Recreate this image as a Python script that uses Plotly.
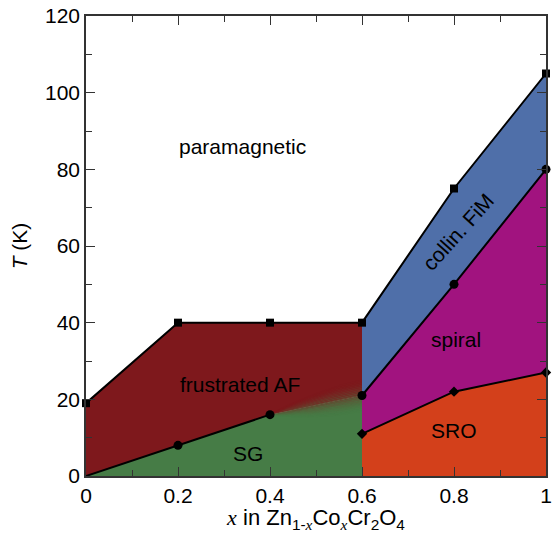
import numpy as np
import plotly.graph_objects as go

# ---- data ----
x_upper = [0.0, 0.2, 0.4, 0.6, 0.8, 1.0]
T_upper = [19, 40, 40, 40, 75, 105]          # squares: paramagnetic boundary

x_sg = [0.0, 0.2, 0.4]
T_sg = [0, 8, 16]                             # circles: SG / frustrated AF
x_sg_end = 0.6
T_sg_end = 21

x_fim = [0.6, 0.8, 1.0]
T_fim = [21, 50, 80]                          # circles: collin. FiM / spiral

x_sro = [0.6, 0.8, 1.0]
T_sro = [11, 22, 27]                          # diamonds: spiral / SRO

x_ticks = [0, 0.2, 0.4, 0.6, 0.8, 1]
x_ticklabels = ["0", "0.2", "0.4", "0.6", "0.8", "1"]
y_ticks = [0, 20, 40, 60, 80, 100, 120]

C_AF = "#7e181c"
C_SG = "#467c46"
C_FIM = "#4f6fa9"
C_SP = "#a1137f"
C_SRO = "#d3401b"

FONT = "Liberation Sans, Arial, sans-serif"

fig = go.Figure()

def poly(xs, ys, color):
    fig.add_trace(go.Scatter(x=xs, y=ys, fill="toself", fillcolor=color, mode="lines",
                             line=dict(width=0, color=color), hoverinfo="skip", showlegend=False))

sg_x = x_sg + [x_sg_end]
sg_T = T_sg + [T_sg_end]
x_split = x_upper.index(0.6)

# frustrated AF region
poly(x_upper[:x_split + 1] + sg_x[::-1], T_upper[:x_split + 1] + sg_T[::-1], C_AF)
# SG region
poly(sg_x + [x_sg_end, 0.0], sg_T + [0, 0], C_SG)
# collinear FiM region
poly(x_upper[x_split:] + x_fim[::-1], T_upper[x_split:] + T_fim[::-1], C_FIM)
# spiral
poly(x_fim + x_sro[::-1], T_fim + T_sro[::-1], C_SP)
# SRO
poly(x_sro + [1.0, 0.6], T_sro + [0, 0], C_SRO)

# blurred transition between AF and SG (x from 0.4 to 0.6)
def hex2rgb(h):
    h = h.lstrip("#")
    return np.array([int(h[i:i + 2], 16) for i in (0, 2, 4)], dtype=float)

ra, rg = hex2rgb(C_AF), hex2rgb(C_SG)
xs = np.linspace(x_sg[-1], x_sg_end, 21)
base = np.interp(xs, [x_sg[-1], x_sg_end], [T_sg[-1], T_sg_end])
w = 4.2 * np.sin(np.pi * (xs - x_sg[-1]) / (x_sg_end - x_sg[-1]) * 0.5) ** 0.8
nb = 20
ks = np.linspace(-1, 1, nb + 1)
for i in range(nb):
    frac = (i + 0.5) / nb
    frac = 0.5 - 0.5 * np.cos(np.pi * frac)
    c = rg * (1 - frac) + ra * frac
    col = "rgb(%d,%d,%d)" % tuple(c)
    lo = base + w * ks[i]
    hi = base + w * ks[i + 1]
    poly(list(xs) + list(xs[::-1]), list(lo) + list(hi[::-1]), col)

# boundary lines and markers
line = dict(color="black", width=2)
fig.add_trace(go.Scatter(x=x_upper, y=T_upper, mode="lines+markers", line=line,
                         marker=dict(symbol="square", size=8, color="black"),
                         cliponaxis=False, showlegend=False))
fig.add_trace(go.Scatter(x=x_sg, y=T_sg, mode="lines", line=line, showlegend=False))
fig.add_trace(go.Scatter(x=[a for a, b in zip(x_sg, T_sg) if b > 0],
                         y=[b for b in T_sg if b > 0], mode="markers",
                         marker=dict(symbol="circle", size=9, color="black"),
                         cliponaxis=False, showlegend=False))
fig.add_trace(go.Scatter(x=x_fim, y=T_fim, mode="lines+markers", line=line,
                         marker=dict(symbol="circle", size=9, color="black"),
                         cliponaxis=False, showlegend=False))
fig.add_trace(go.Scatter(x=x_sro, y=T_sro, mode="lines+markers", line=line,
                         marker=dict(symbol="diamond", size=8, color="black"),
                         cliponaxis=False, showlegend=False))

def label(x, y, text, angle=0):
    fig.add_annotation(x=x, y=y, text=text, showarrow=False, textangle=angle,
                       font=dict(family=FONT, size=21, color="black"))

label(0.341, 86, "paramagnetic")
label(0.335, 24, "frustrated AF")
label(0.352, 6, "SG")
label(0.804, 35.7, "spiral")
label(0.80, 12, "SRO")
label(0.81, 63.7, "collin. FiM", angle=-48)

SERIF = "font-family:'Liberation Serif','DejaVu Serif',serif;font-style:italic"
xtitle = ("<span style=\"%s\">x</span> in Zn<sub>1-<span style=\"%s\">x</span></sub>"
          "Co<sub><span style=\"%s\">x</span></sub>Cr<sub>2</sub>O<sub>4</sub>") % (SERIF, SERIF, SERIF)

axis_common = dict(showgrid=False, zeroline=False, showline=True, linecolor="#333333",
                   linewidth=1.5, mirror="ticks", ticks="inside", ticklen=9, tickwidth=1.3,
                   tickcolor="#333333", tickfont=dict(family=FONT, size=21, color="black"),
                   automargin=False)

fig.update_xaxes(range=[0, 1], tickvals=x_ticks, ticktext=x_ticklabels,
                 minor=dict(ticks="inside", ticklen=6, dtick=0.1, tickcolor="#333333", tickwidth=1.3),
                 title=dict(text=xtitle, font=dict(family=FONT, size=22, color="black"), standoff=4),
                 **axis_common)
fig.update_yaxes(range=[0, 120], tickvals=y_ticks,
                 minor=dict(ticks="inside", ticklen=6, dtick=10, tickcolor="#333333", tickwidth=1.3),
                 title=dict(text="<i>T</i> (K)", font=dict(family=FONT, size=21, color="black"), standoff=12),
                 **axis_common)

fig.update_layout(width=557, height=533, margin=dict(l=86, r=11, t=16, b=57, autoexpand=False),
                  plot_bgcolor="white", paper_bgcolor="white", showlegend=False,
                  font=dict(family=FONT))

fig.write_html("out.html", config={"displayModeBar": False},
               post_script="document.body.style.margin='0';document.body.style.overflow='hidden';")
